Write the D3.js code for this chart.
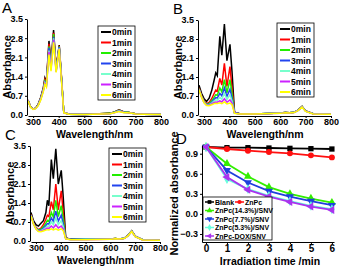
<!DOCTYPE html>
<html>
<head>
<meta charset="utf-8">
<script src="https://cdn.jsdelivr.net/npm/d3@7"></script>
<style>
  body { margin: 0; background: #fff; }
  text { font-family: "Liberation Sans", Arial, sans-serif; }
</style>
</head>
<body>
<div id="chart"></div>
<script>
// ---- data ----
var timeLabels = ["0min", "1min", "2min", "3min", "4min", "5min", "6min"];
var timeColors = ["#000000", "#ff0000", "#22ee00", "#2244ee", "#77ffcc", "#cc22ff", "#ffff00"];

var wavelengths = [280, 290, 300, 310, 320, 330, 340, 346, 352, 362, 370, 380, 390, 402, 410,
                   420, 440, 500, 600, 620, 636, 655, 670, 686, 700, 730, 800];

var spectraA = [
  [0.55,0.30,0.22,0.25,0.40,0.65,1.00,1.35,1.20,2.70,1.90,3.10,1.70,2.55,1.50, 0.10,0.03,0.02,0.06,0.12,0.19,0.11,0.10,0.07,0.05,0.03,0.02],
  [0.55,0.30,0.22,0.25,0.39,0.63,0.97,1.30,1.17,2.60,1.85,3.00,1.68,2.52,1.48, 0.10,0.03,0.02,0.06,0.11,0.18,0.11,0.10,0.07,0.05,0.03,0.02],
  [0.54,0.30,0.22,0.25,0.38,0.61,0.94,1.25,1.14,2.50,1.80,2.95,1.65,2.50,1.45, 0.09,0.03,0.02,0.06,0.11,0.17,0.10,0.10,0.07,0.05,0.03,0.02],
  [0.54,0.29,0.21,0.24,0.37,0.60,0.92,1.20,1.10,2.45,1.75,2.85,1.62,2.48,1.43, 0.09,0.03,0.02,0.05,0.10,0.16,0.10,0.09,0.06,0.04,0.03,0.02],
  [0.53,0.29,0.21,0.24,0.36,0.58,0.90,1.18,1.08,2.35,1.70,2.80,1.60,2.45,1.40, 0.09,0.03,0.02,0.05,0.10,0.15,0.09,0.09,0.06,0.04,0.03,0.02],
  [0.53,0.29,0.21,0.24,0.35,0.57,0.88,1.15,1.05,2.30,1.65,2.75,1.57,2.42,1.38, 0.08,0.03,0.02,0.05,0.09,0.14,0.09,0.08,0.06,0.04,0.03,0.02],
  [0.52,0.28,0.20,0.23,0.34,0.55,0.85,1.12,1.02,2.20,1.60,2.65,1.55,2.40,1.35, 0.08,0.03,0.02,0.05,0.09,0.13,0.08,0.08,0.06,0.04,0.03,0.02]
];

var spectraB = [
  [1.10,0.80,0.60,0.50,0.62,0.90,1.30,1.55,1.45,2.90,2.20,3.35,2.00,2.60,1.60, 0.10,0.05,0.04,0.07,0.09,0.08,0.10,0.18,0.32,0.15,0.05,0.03],
  [1.00,0.72,0.52,0.42,0.46,0.60,0.80,0.92,0.88,1.35,1.10,1.90,1.05,1.78,1.00, 0.09,0.05,0.04,0.07,0.09,0.08,0.10,0.18,0.31,0.15,0.05,0.03],
  [0.98,0.70,0.50,0.40,0.42,0.52,0.66,0.75,0.72,1.00,0.85,1.30,0.82,1.30,0.80, 0.08,0.05,0.04,0.07,0.09,0.08,0.10,0.18,0.31,0.15,0.05,0.03],
  [0.96,0.68,0.48,0.38,0.40,0.47,0.58,0.64,0.62,0.80,0.70,1.00,0.68,0.95,0.62, 0.08,0.05,0.04,0.07,0.09,0.08,0.10,0.17,0.30,0.14,0.05,0.03],
  [0.95,0.67,0.47,0.37,0.38,0.44,0.52,0.56,0.54,0.65,0.58,0.80,0.57,0.75,0.52, 0.07,0.04,0.04,0.07,0.08,0.08,0.10,0.17,0.30,0.14,0.05,0.03],
  [0.94,0.66,0.46,0.36,0.36,0.41,0.46,0.48,0.47,0.52,0.48,0.60,0.47,0.56,0.44, 0.07,0.04,0.04,0.06,0.08,0.07,0.09,0.17,0.29,0.14,0.04,0.03],
  [0.93,0.65,0.45,0.35,0.34,0.38,0.42,0.43,0.42,0.45,0.42,0.48,0.41,0.44,0.38, 0.06,0.04,0.04,0.06,0.08,0.07,0.09,0.16,0.29,0.13,0.04,0.03]
];

var spectraC = [
  [1.05,0.75,0.60,0.55,0.65,0.75,1.05,1.50,1.30,3.00,2.30,3.40,2.10,2.60,1.60, 0.12,0.06,0.06,0.07,0.09,0.07,0.10,0.20,0.38,0.18,0.05,0.03],
  [0.98,0.68,0.50,0.42,0.47,0.60,0.80,0.95,0.90,1.45,1.15,2.10,1.15,1.85,1.05, 0.11,0.06,0.06,0.07,0.09,0.07,0.10,0.20,0.37,0.18,0.05,0.03],
  [0.96,0.66,0.48,0.40,0.43,0.52,0.66,0.76,0.72,1.05,0.88,1.50,0.90,1.30,0.82, 0.10,0.06,0.06,0.07,0.09,0.07,0.10,0.19,0.37,0.17,0.05,0.03],
  [0.95,0.65,0.47,0.38,0.40,0.47,0.57,0.64,0.62,0.85,0.72,1.10,0.73,0.95,0.64, 0.09,0.06,0.06,0.07,0.08,0.07,0.10,0.19,0.36,0.17,0.05,0.03],
  [0.94,0.64,0.46,0.37,0.38,0.43,0.50,0.55,0.53,0.70,0.60,0.85,0.60,0.75,0.53, 0.09,0.05,0.06,0.07,0.08,0.07,0.10,0.19,0.36,0.17,0.05,0.03],
  [0.93,0.63,0.45,0.36,0.36,0.40,0.45,0.48,0.46,0.55,0.48,0.60,0.48,0.55,0.44, 0.08,0.05,0.05,0.06,0.08,0.07,0.09,0.18,0.35,0.16,0.04,0.03],
  [0.92,0.62,0.44,0.35,0.34,0.37,0.40,0.42,0.41,0.45,0.41,0.45,0.40,0.45,0.38, 0.08,0.05,0.05,0.06,0.08,0.07,0.09,0.18,0.35,0.16,0.04,0.03]
];

var absTicks = [0.0, 0.7, 1.4, 2.1, 2.8, 3.5];
var wlTicks = [300, 400, 500, 600, 700, 800];

// panel D
var irrTimes = [0, 1, 2, 3, 4, 5, 6];
var kinNames = ["Blank", "ZnPc", "ZnPc(14.3%)/SNV", "ZnPc(7.7%)/SNV", "ZnPc(5.3%)/SNV", "ZnPc-DOX/SNV"];
var kinColors = ["#000000", "#ff1010", "#33ee00", "#1f3fdd", "#66ffdd", "#aa33ee"];
var kinBlank = [1.00, 0.99, 0.99, 0.985, 0.98, 0.975, 0.97];
var kinZnPc = [1.00, 0.97, 0.945, 0.925, 0.905, 0.875, 0.845];
var kin143 = [1.00, 0.75, 0.56, 0.40, 0.30, 0.23, 0.17];
var kin77 = [1.00, 0.65, 0.47, 0.34, 0.26, 0.19, 0.13];
var kin53 = [1.00, 0.52, 0.37, 0.27, 0.19, 0.12, 0.07];
var kinDox = [1.00, 0.55, 0.36, 0.26, 0.18, 0.11, 0.06];
var normTicks = [-0.3, 0.0, 0.3, 0.6, 0.9];

// ---- svg ----
var W = 340, H = 266;
var svg = d3.select("#chart").append("svg")
    .attr("width", W)
    .attr("height", H);

function styleAxis(g) {
    g.selectAll("path.domain").attr("stroke", "#000").attr("stroke-width", 1);
    g.selectAll(".tick line").attr("stroke", "#000");
    g.selectAll(".tick text")
        .attr("font-size", 9)
        .attr("font-weight", "bold")
        .attr("fill", "#000");
}

function drawSpectrum(p) {
    var x = d3.scaleLinear().domain([280, 800]).range([p.left, p.right]);
    var y = d3.scaleLinear().domain([0, 3.5]).range([p.bottom, p.top]);

    var line = d3.line()
        .x(function(d, i) { return x(wavelengths[i]); })
        .y(function(d) { return y(d); });

    p.data.forEach(function(s, k) {
        svg.append("path")
            .datum(s)
            .attr("fill", "none")
            .attr("stroke", timeColors[k])
            .attr("stroke-width", 1.5)
            .attr("d", line);
    });

    var gx = svg.append("g")
        .attr("transform", "translate(0," + (p.bottom + 1) + ")")
        .call(d3.axisBottom(x).tickValues(wlTicks).tickSize(2).tickPadding(1).tickSizeOuter(0));
    styleAxis(gx);
    var gy = svg.append("g")
        .attr("transform", "translate(" + (p.left - 1) + ",0)")
        .call(d3.axisLeft(y).tickValues(absTicks).tickFormat(d3.format(".1f")).tickSize(2).tickPadding(2).tickSizeOuter(0));
    styleAxis(gy);

    svg.append("text")
        .attr("x", (p.left + p.right) / 2)
        .attr("y", p.bottom + 23)
        .attr("text-anchor", "middle")
        .attr("font-size", 10.5)
        .attr("font-weight", "bold")
        .text("Wavelength/nm");
    svg.append("text")
        .attr("transform", "translate(" + (p.left - 17) + "," + ((p.top + p.bottom) / 2) + ") rotate(-90)")
        .attr("text-anchor", "middle")
        .attr("font-size", 11)
        .attr("font-weight", "bold")
        .text("Absorbance");
    svg.append("text")
        .attr("x", p.left - 26)
        .attr("y", p.top - 6)
        .attr("font-size", 15)
        .text(p.letter);

    // legend
    var lg = svg.append("g").attr("transform", "translate(" + p.legX + "," + p.legY + ")");
    lg.append("rect")
        .attr("width", 37).attr("height", 74)
        .attr("fill", "#fff").attr("stroke", "#000").attr("stroke-width", 0.8);
    timeLabels.forEach(function(t, k) {
        var yy = 6 + k * 10.5;
        lg.append("line")
            .attr("x1", 3).attr("x2", 13).attr("y1", yy).attr("y2", yy)
            .attr("stroke", timeColors[k]).attr("stroke-width", 2);
        lg.append("text")
            .attr("x", 14).attr("y", yy + 3)
            .attr("font-size", 8.5).attr("font-weight", "bold")
            .text(t);
    });
}

drawSpectrum({letter: "A", left: 28, right: 161, top: 19, bottom: 115, data: spectraA, legX: 98, legY: 26});
drawSpectrum({letter: "B", left: 199, right: 331, top: 20, bottom: 115, data: spectraB, legX: 277, legY: 23});
drawSpectrum({letter: "C", left: 31, right: 160, top: 146, bottom: 241, data: spectraC, legX: 109, legY: 148});

// ---- panel D ----
(function() {
    var left = 202, right = 334, top = 145, bottom = 242;
    var x = d3.scaleLinear().domain([-0.19, 6.1]).range([left, right]);
    var y = d3.scaleLinear().domain([-0.42, 1.03]).range([bottom, top]);

    var series = [kinBlank, kinZnPc, kin143, kin77, kin53, kinDox];
    var symbols = [d3.symbolSquare, d3.symbolCircle, d3.symbolTriangle, d3.symbolTriangle, d3.symbolDiamond, d3.symbolTriangle];
    var rotations = [0, 0, 0, 180, 0, -90];

    var line = d3.line()
        .x(function(d, i) { return x(irrTimes[i]); })
        .y(function(d) { return y(d); });

    series.forEach(function(s, k) {
        svg.append("path")
            .datum(s)
            .attr("fill", "none")
            .attr("stroke", kinColors[k])
            .attr("stroke-width", 1.8)
            .attr("d", line);
        svg.append("g").selectAll("path")
            .data(s)
            .join("path")
            .attr("transform", function(d, i) {
                return "translate(" + x(irrTimes[i]) + "," + y(d) + ") rotate(" + rotations[k] + ")";
            })
            .attr("d", d3.symbol().type(symbols[k]).size(28))
            .attr("fill", kinColors[k]);
    });

    var gx = svg.append("g")
        .attr("transform", "translate(0," + bottom + ")")
        .call(d3.axisBottom(x).tickValues(irrTimes).tickFormat(d3.format("d")).tickSize(2).tickPadding(1).tickSizeOuter(0));
    styleAxis(gx);
    gx.selectAll(".tick text").attr("font-size", 10);
    var gy = svg.append("g")
        .attr("transform", "translate(" + left + ",0)")
        .call(d3.axisLeft(y).tickValues(normTicks).tickFormat(d3.format(".1f")).tickSize(2).tickPadding(2).tickSizeOuter(0));
    styleAxis(gy);

    svg.append("text")
        .attr("x", (left + right) / 2 + 2)
        .attr("y", bottom + 23)
        .attr("text-anchor", "middle")
        .attr("font-size", 10.5)
        .attr("font-weight", "bold")
        .text("Irradiation time /min");
    svg.append("text")
        .attr("transform", "translate(" + (left - 24) + "," + ((top + bottom) / 2) + ") rotate(-90)")
        .attr("text-anchor", "middle")
        .attr("font-size", 11)
        .attr("font-weight", "bold")
        .text("Normalized absorbance");
    svg.append("text")
        .attr("x", 176)
        .attr("y", 144)
        .attr("font-size", 15)
        .text("D");

    // legend
    var lg = svg.append("g").attr("transform", "translate(203,197)");
    lg.append("rect")
        .attr("width", 69).attr("height", 43)
        .attr("fill", "#fff").attr("stroke", "#000").attr("stroke-width", 0.8);
    var items = [
        {k: 0, x: 2, y: 5}, {k: 1, x: 32, y: 5},
        {k: 2, x: 2, y: 13.5}, {k: 3, x: 2, y: 22}, {k: 4, x: 2, y: 30.5}, {k: 5, x: 2, y: 39}
    ];
    items.forEach(function(it) {
        var g = lg.append("g").attr("transform", "translate(" + it.x + "," + it.y + ")");
        g.append("line").attr("x1", 0).attr("x2", 9).attr("y1", 0).attr("y2", 0)
            .attr("stroke", kinColors[it.k]).attr("stroke-width", 1.5);
        g.append("path")
            .attr("transform", "translate(4.5,0) rotate(" + rotations[it.k] + ")")
            .attr("d", d3.symbol().type(symbols[it.k]).size(14))
            .attr("fill", kinColors[it.k]);
        g.append("text")
            .attr("x", 10).attr("y", 2.6)
            .attr("font-size", 7).attr("font-weight", "bold")
            .text(kinNames[it.k]);
    });
})();
</script>
</body>
</html>
